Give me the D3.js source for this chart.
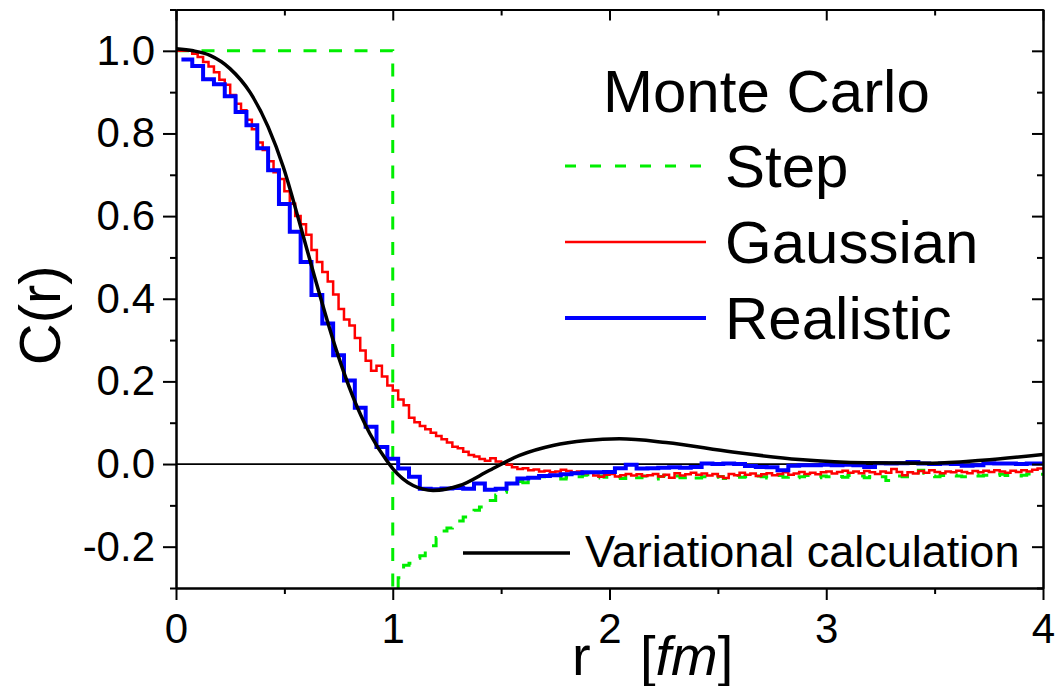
<!DOCTYPE html>
<html>
<head>
<meta charset="utf-8">
<script src="https://cdn.jsdelivr.net/npm/d3@7"></script>
<style>
  body { margin: 0; background: #fff; }
  svg { display: block; font-family: "Liberation Sans", Arial, sans-serif; }
</style>
</head>
<body>
<div id="chart"></div>
<script>
// axis ticks
const xMajor = [0, 1, 2, 3, 4]
const xMinor = [0.5, 1.5, 2.5, 3.5]
const yMajor = [-0.2, 0.0, 0.2, 0.4, 0.6, 0.8, 1.0]
const yMinor = [-0.3, -0.1, 0.1, 0.3, 0.5, 0.7, 0.9, 1.1]

// variational calculation (smooth curve)
const varR = [0, 0.08, 0.157, 0.249, 0.341, 0.425, 0.495, 0.571, 0.641, 0.74, 0.817, 0.894, 0.971, 1.0,
  1.094, 1.186, 1.309, 1.447, 1.585, 1.739, 1.892, 2.046, 2.261, 2.568, 2.876, 3.183, 3.49, 3.72, 4.0]
const varC = [1.005, 1.0, 0.989, 0.957, 0.90, 0.816, 0.719, 0.582, 0.450, 0.275, 0.162, 0.074, 0.009, -0.011,
  -0.052, -0.064, -0.052, -0.015, 0.021, 0.045, 0.057, 0.061, 0.052, 0.029, 0.011, 0.003, 0.002, 0.009, 0.023]

// Monte Carlo, Gaussian: histogram, bins of 0.025 starting at r = 0
const gaussStart = 0
const gaussBin = 0.025
const gaussC = [
  1.000, 1.000, 1.000, 0.993, 0.985, 0.973, 0.962, 0.948, 0.930, 0.918,
  0.893, 0.872, 0.856, 0.833, 0.810, 0.778, 0.760, 0.733, 0.706, 0.690,
  0.660, 0.630, 0.600, 0.580, 0.555, 0.518, 0.489, 0.465, 0.442, 0.410,
  0.375, 0.350, 0.335, 0.305, 0.275, 0.250, 0.226, 0.238, 0.212, 0.190,
  0.178, 0.156, 0.142, 0.112, 0.101, 0.092, 0.084, 0.076, 0.068, 0.060,
  0.052, 0.042, 0.038, 0.030, 0.022, 0.018, 0.012, 0.008, 0.014, 0.006,
  0.003, -0.002, -0.008, -0.012, -0.010, -0.015, -0.013, -0.018, -0.016, -0.020,
  -0.018, -0.014, -0.017, -0.020, -0.018, -0.022, -0.020, -0.028, -0.031, -0.026,
  -0.024, -0.030, -0.027, -0.024, -0.028, -0.025, -0.029, -0.027, -0.024, -0.030,
  -0.026, -0.033, -0.022, -0.028, -0.025, -0.021, -0.026, -0.023, -0.028, -0.024,
  -0.030, -0.034, -0.024, -0.027, -0.021, -0.026, -0.023, -0.029, -0.025, -0.022,
  -0.027, -0.024, -0.020, -0.026, -0.023, -0.019, -0.024, -0.021, -0.025, -0.020,
  -0.018, -0.023, -0.019, -0.016, -0.021, -0.018, -0.022, -0.017, -0.020, -0.024,
  -0.018, -0.021, -0.012, -0.019, -0.027, -0.020, -0.023, -0.017, -0.021, -0.015,
  -0.019, -0.022, -0.018, -0.020, -0.016, -0.019, -0.022, -0.017, -0.020, -0.016,
  -0.019, -0.015, -0.018, -0.021, -0.016, -0.019, -0.015, -0.018, -0.014, -0.011
]

// Monte Carlo, Step: plateau up to r = 1, then histogram bins of 0.025
const stepPlateau = 1.0
const stepEdge = 1.0
const stepBin = 0.025
const stepC = [
  -0.400, -0.275, -0.245, -0.240, -0.228, -0.222, -0.210, -0.198, -0.178, -0.162,
  -0.155, -0.143, -0.138, -0.128, -0.118, -0.112, -0.104, -0.098, -0.088, -0.075,
  -0.068, -0.048, -0.040, -0.042, -0.045, -0.038, -0.033, -0.031, -0.029, -0.033,
  -0.030, -0.036, -0.032, -0.028, -0.031, -0.027, -0.030, -0.034, -0.029, -0.032,
  -0.028, -0.031, -0.035, -0.030, -0.027, -0.033, -0.029, -0.031, -0.036, -0.030,
  -0.027, -0.032, -0.029, -0.033, -0.030, -0.028, -0.034, -0.031, -0.029, -0.032,
  -0.030, -0.035, -0.031, -0.028, -0.032, -0.030, -0.033, -0.029, -0.031, -0.034,
  -0.030, -0.028, -0.032, -0.029, -0.033, -0.031, -0.028, -0.030, -0.033, -0.029,
  -0.031, -0.027, -0.030, -0.032, -0.028, -0.031, -0.029, -0.033, -0.030, -0.027,
  -0.031, -0.040, -0.033, -0.029, -0.031, -0.028, -0.030, -0.015, -0.022, -0.029,
  -0.031, -0.028, -0.030, -0.027, -0.029, -0.031, -0.028, -0.026, -0.029, -0.027,
  -0.030, -0.028, -0.025, -0.028, -0.026, -0.029, -0.027, -0.024, -0.027, -0.025
]

// Monte Carlo, Realistic: histogram, bins of 0.05 starting at r = 0.025
const realStart = 0.025
const realBin = 0.05
const realC = [
  0.979, 0.963, 0.931, 0.919, 0.890, 0.852, 0.820, 0.764, 0.711, 0.629,
  0.562, 0.489, 0.409, 0.340, 0.263, 0.202, 0.136, 0.090, 0.041, 0.013,
  -0.011, -0.031, -0.060, -0.061, -0.059, -0.058, -0.060, -0.047, -0.062, -0.060,
  -0.047, -0.035, -0.033, -0.029, -0.027, -0.025, -0.022, -0.020, -0.020, -0.019,
  -0.010, -0.002, -0.011, -0.010, -0.009, -0.008, -0.009, -0.007, 0.001, 0.000,
  0.001, 0.000, -0.005, -0.007, -0.008, -0.015, -0.004, -0.003, -0.003, -0.002,
  -0.003, -0.002, -0.003, -0.007, 0.002, 0.001, 0.002, 0.005, 0.001, 0.000,
  0.001, 0.000, -0.004, -0.003, 0.002, 0.001, 0.001, 0.000, 0.001, 0.001
]

const legendNames = ['Step', 'Gaussian', 'Realistic']
const legendTitle = 'Monte Carlo'
const varLabel = 'Variational calculation'

const width = 1062
const height = 686
const plot = { left: 176, right: 1043, top: 9.5, bottom: 588 }
const fontFamily = '"Liberation Sans", Arial, sans-serif'

const svg = d3.select('#chart').append('svg')
  .attr('width', width)
  .attr('height', height)

svg.append('rect').attr('width', width).attr('height', height).attr('fill', '#fff')

const x = d3.scaleLinear().domain([0, 4]).range([plot.left, plot.right])
const y = d3.scaleLinear().domain([-0.3, 1.1]).range([plot.bottom, plot.top])

svg.append('clipPath').attr('id', 'clip')
  .append('rect')
  .attr('x', plot.left).attr('y', plot.top)
  .attr('width', plot.right - plot.left).attr('height', plot.bottom - plot.top)

// turn bins into step points (left edges + closing point)
const binPoints = (start, bin, vals) => {
  const pts = vals.map((v, i) => [start + i * bin, v])
  pts.push([start + vals.length * bin, vals[vals.length - 1]])
  return pts
}

const stepLine = d3.line()
  .x(d => x(d[0]))
  .y(d => y(d[1]))
  .curve(d3.curveStepAfter)

const g = svg.append('g').attr('clip-path', 'url(#clip)')

// zero line
g.append('line')
  .attr('x1', plot.left).attr('x2', plot.right)
  .attr('y1', y(0)).attr('y2', y(0))
  .attr('stroke', '#000').attr('stroke-width', 1.8)

// step (green dashed)
const stepPts = [[0, stepPlateau]].concat(binPoints(stepEdge, stepBin, stepC))
g.append('path')
  .attr('d', stepLine(stepPts))
  .attr('fill', 'none')
  .attr('stroke', '#00ee00')
  .attr('stroke-width', 3)
  .attr('stroke-dasharray', '13,12.5')

// gaussian (red)
g.append('path')
  .attr('d', stepLine(binPoints(gaussStart, gaussBin, gaussC)))
  .attr('fill', 'none')
  .attr('stroke', '#ff0000')
  .attr('stroke-width', 2.5)

// realistic (blue)
g.append('path')
  .attr('d', stepLine(binPoints(realStart, realBin, realC)))
  .attr('fill', 'none')
  .attr('stroke', '#0000ff')
  .attr('stroke-width', 4)

// variational (black)
const varLine = d3.line()
  .x(d => x(d[0]))
  .y(d => y(d[1]))
  .curve(d3.curveMonotoneX)
g.append('path')
  .attr('d', varLine(varR.map((r, i) => [r, varC[i]])))
  .attr('fill', 'none')
  .attr('stroke', '#000')
  .attr('stroke-width', 3.5)

// axes
const styleAxis = (sel) => {
  sel.select('.domain').attr('stroke', '#000').attr('stroke-width', 2)
  sel.selectAll('.tick line').attr('stroke', '#000').attr('stroke-width', 2)
  sel.selectAll('.tick text').attr('fill', '#000').attr('font-size', 42)
    .attr('font-family', fontFamily)
}

// plain hyphen for negatives, like the original
const yFormat = d => d3.format('.1f')(d).replace('\u2212', '-')

svg.append('g')
  .attr('transform', `translate(0,${plot.bottom})`)
  .call(d3.axisBottom(x).tickValues(xMajor).tickFormat(d3.format('d')).tickSize(12).tickSizeOuter(0).tickPadding(13))
  .call(styleAxis)
svg.append('g')
  .attr('transform', `translate(0,${plot.bottom})`)
  .call(d3.axisBottom(x).tickValues(xMinor).tickFormat('').tickSize(6).tickSizeOuter(0))
  .call(styleAxis)

svg.append('g')
  .attr('transform', `translate(${plot.left},0)`)
  .call(d3.axisLeft(y).tickValues(yMajor).tickFormat(yFormat).tickSize(13).tickSizeOuter(0).tickPadding(8))
  .call(styleAxis)
svg.append('g')
  .attr('transform', `translate(${plot.left},0)`)
  .call(d3.axisLeft(y).tickValues(yMinor).tickFormat('').tickSize(6).tickSizeOuter(0))
  .call(styleAxis)

// top and right spines, ticks inward
svg.append('g')
  .attr('transform', `translate(0,${plot.top})`)
  .call(d3.axisBottom(x).tickValues(xMajor).tickFormat('').tickSize(11).tickSizeOuter(0))
  .call(styleAxis)
svg.append('g')
  .attr('transform', `translate(0,${plot.top})`)
  .call(d3.axisBottom(x).tickValues(xMinor).tickFormat('').tickSize(6).tickSizeOuter(0))
  .call(styleAxis)
svg.append('g')
  .attr('transform', `translate(${plot.right},0)`)
  .call(d3.axisLeft(y).tickValues(yMajor).tickFormat('').tickSize(11).tickSizeOuter(0))
  .call(styleAxis)
svg.append('g')
  .attr('transform', `translate(${plot.right},0)`)
  .call(d3.axisLeft(y).tickValues(yMinor).tickFormat('').tickSize(6).tickSizeOuter(0))
  .call(styleAxis)

// axis titles
svg.append('text')
  .attr('transform', `translate(60,${y(0.36)}) rotate(-90)`)
  .attr('text-anchor', 'middle')
  .attr('font-size', 58)
  .text('C(r)')

// x title: the tick label "2" stands where the superscript sits, as in the original
svg.append('text')
  .attr('x', 572).attr('y', 675)
  .attr('font-size', 56)
  .text('r')
const xt = svg.append('text')
  .attr('x', 640).attr('y', 675)
  .attr('font-size', 56)
xt.append('tspan').text('[')
xt.append('tspan').attr('font-style', 'italic').text('fm')
xt.append('tspan').text(']')

// legend
svg.append('text')
  .attr('x', 603).attr('y', 112)
  .attr('font-size', 60)
  .text(legendTitle)

const legendStyles = [
  { stroke: '#00ee00', width: 3, dash: '11,14' },
  { stroke: '#ff0000', width: 2.5, dash: null },
  { stroke: '#0000ff', width: 4, dash: null }
]
const legendY = d3.scalePoint().domain(legendNames).range([166, 318])

legendNames.forEach((name, i) => {
  const ly = legendY(name)
  svg.append('line')
    .attr('x1', 565).attr('x2', 706)
    .attr('y1', ly).attr('y2', ly)
    .attr('stroke', legendStyles[i].stroke)
    .attr('stroke-width', legendStyles[i].width)
    .attr('stroke-dasharray', legendStyles[i].dash)
  svg.append('text')
    .attr('x', 725).attr('y', ly + 21)
    .attr('font-size', 60)
    .text(name)
})

svg.append('line')
  .attr('x1', 463).attr('x2', 570)
  .attr('y1', 553).attr('y2', 553)
  .attr('stroke', '#000').attr('stroke-width', 3.5)
svg.append('text')
  .attr('x', 585).attr('y', 567)
  .attr('font-size', 45)
  .text(varLabel)
</script>
</body>
</html>
